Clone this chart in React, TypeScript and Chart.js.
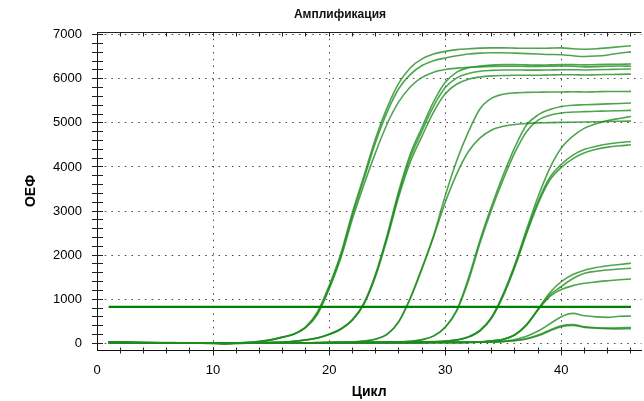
import React, { useEffect, useRef } from "react";
import { Chart, registerables } from "chart.js";

Chart.register(...registerables);

const chartTitle = "Амплификация";
const xTitle = "Цикл";
const yTitle = "ОЕФ";

const cycles = [1, 2, 3, 4, 5, 6, 7, 8, 9, 10, 11, 12, 13, 14, 15, 16, 17, 18, 19, 20, 21, 22, 23, 24, 25, 26, 27, 28, 29, 30, 31, 32, 33, 34, 35, 36, 37, 38, 39, 40, 41, 42, 43, 44, 45, 46];
const thresholdCycles = [1, 46];
const thresholdValue = 830;
const xTickLabels = [0, 10, 20, 30, 40];
const yTickLabels = [0, 1000, 2000, 3000, 4000, 5000, 6000, 7000];

const g1a = [30, 28, 25, 22, 20, 18, 15, 12, 8, 5, 5, 10, 22, 45, 85, 150, 220, 380, 720, 1310, 2030, 2970, 3800, 4650, 5350, 5900, 6250, 6450, 6560, 6620, 6660, 6680, 6695, 6700, 6700, 6695, 6690, 6690, 6695, 6700, 6680, 6670, 6680, 6700, 6725, 6750];
const g1b = [20, 22, 20, 18, 15, 12, 10, 8, 5, 2, 0, 6, 18, 40, 78, 140, 215, 370, 690, 1270, 1980, 2900, 3730, 4560, 5250, 5780, 6100, 6300, 6410, 6470, 6520, 6560, 6580, 6590, 6590, 6580, 6570, 6560, 6550, 6545, 6520, 6505, 6515, 6540, 6580, 6610];
const g1c = [25, 25, 22, 20, 18, 15, 12, 10, 6, 3, 2, 8, 20, 42, 80, 140, 210, 360, 660, 1230, 1930, 2820, 3600, 4330, 4980, 5480, 5820, 6030, 6150, 6210, 6240, 6260, 6270, 6280, 6285, 6285, 6280, 6280, 6285, 6290, 6285, 6270, 6275, 6285, 6290, 6285];
const g2a = [22, 20, 18, 16, 14, 12, 10, 8, 5, 3, 2, 4, 8, 14, 22, 32, 50, 80, 125, 210, 330, 540, 920, 1580, 2460, 3460, 4300, 4900, 5480, 5920, 6150, 6250, 6290, 6310, 6320, 6320, 6315, 6310, 6315, 6320, 6320, 6315, 6320, 6325, 6330, 6335];
const g2b = [18, 18, 16, 14, 12, 10, 8, 6, 4, 2, 1, 3, 7, 12, 20, 30, 48, 76, 120, 200, 320, 525, 900, 1550, 2420, 3400, 4220, 4820, 5380, 5800, 6020, 6120, 6170, 6190, 6200, 6200, 6195, 6195, 6200, 6205, 6205, 6200, 6205, 6210, 6215, 6222];
const g2c = [20, 19, 17, 15, 13, 11, 9, 7, 5, 3, 2, 4, 8, 13, 21, 31, 49, 78, 122, 205, 325, 530, 890, 1520, 2380, 3330, 4120, 4700, 5250, 5660, 5880, 5990, 6040, 6065, 6075, 6080, 6080, 6080, 6085, 6090, 6090, 6085, 6090, 6095, 6100, 6108];
const g3a = [20, 18, 16, 14, 12, 10, 8, 6, 4, 2, 1, 2, 4, 6, 8, 10, 12, 15, 18, 22, 27, 33, 55, 100, 210, 500, 1040, 1720, 2450, 3350, 4150, 4800, 5320, 5560, 5650, 5680, 5690, 5695, 5700, 5700, 5705, 5700, 5705, 5710, 5710, 5713];
const g3b = [18, 17, 15, 13, 11, 9, 7, 5, 3, 1, 0, 1, 3, 5, 7, 9, 11, 14, 17, 21, 26, 32, 52, 96, 205, 490, 1020, 1690, 2420, 3200, 3850, 4350, 4660, 4840, 4925, 4962, 4985, 5000, 5005, 5010, 5015, 5020, 5025, 5030, 5035, 5040];
const g4a = [20, 18, 16, 14, 12, 10, 8, 6, 4, 2, 1, 2, 3, 5, 7, 9, 11, 13, 15, 17, 19, 21, 23, 25, 28, 34, 48, 85, 170, 370, 760, 1480, 2350, 3120, 3820, 4450, 4950, 5180, 5300, 5370, 5400, 5410, 5420, 5430, 5440, 5450];
const g4b = [18, 16, 14, 12, 10, 8, 6, 4, 2, 0, 0, 1, 2, 4, 6, 8, 10, 12, 14, 16, 18, 20, 22, 24, 27, 32, 46, 82, 165, 360, 740, 1420, 2280, 3040, 3720, 4330, 4800, 5060, 5170, 5225, 5245, 5255, 5262, 5270, 5276, 5282];
const g5a = [22, 20, 18, 16, 14, 12, 10, 8, 6, 4, 3, 4, 5, 6, 8, 10, 12, 14, 16, 18, 20, 22, 24, 26, 28, 30, 32, 35, 40, 52, 80, 150, 300, 600, 1130, 1800, 2580, 3330, 3970, 4430, 4700, 4880, 4980, 5050, 5100, 5145];
const g5b = [20, 18, 16, 14, 12, 10, 8, 6, 4, 3, 2, 3, 4, 5, 7, 9, 11, 13, 15, 17, 19, 21, 23, 25, 27, 29, 31, 34, 38, 50, 78, 145, 290, 585, 1100, 1760, 2520, 3220, 3760, 4060, 4270, 4400, 4470, 4520, 4555, 4578];
const g5c = [19, 17, 15, 13, 11, 9, 7, 5, 3, 2, 1, 2, 3, 4, 6, 8, 10, 12, 14, 16, 18, 20, 22, 24, 26, 28, 30, 33, 37, 48, 76, 142, 285, 575, 1080, 1730, 2480, 3170, 3700, 3990, 4190, 4320, 4400, 4450, 4480, 4503];
const g6a = [20, 18, 16, 14, 12, 10, 8, 6, 4, 3, 2, 3, 4, 5, 6, 7, 8, 9, 10, 11, 12, 13, 14, 15, 16, 17, 18, 19, 20, 21, 23, 26, 35, 60, 95, 200, 430, 780, 1150, 1400, 1560, 1660, 1720, 1760, 1790, 1817];
const g6b = [18, 16, 14, 12, 10, 8, 6, 4, 3, 2, 1, 2, 3, 4, 5, 6, 7, 8, 9, 10, 11, 12, 13, 14, 15, 16, 17, 18, 19, 20, 22, 25, 33, 57, 92, 195, 420, 770, 1100, 1290, 1470, 1590, 1635, 1665, 1688, 1703];
const g6c = [19, 17, 15, 13, 11, 9, 7, 5, 3, 2, 1, 2, 3, 4, 5, 6, 7, 8, 9, 10, 11, 12, 13, 14, 15, 16, 17, 18, 19, 20, 21, 24, 32, 55, 90, 190, 410, 760, 1060, 1220, 1310, 1362, 1395, 1420, 1442, 1460];
const low1 = [20, 18, 16, 14, 12, 10, 8, 6, 4, 3, 2, 3, 4, 5, 6, 7, 8, 9, 10, 11, 12, 13, 14, 15, 16, 17, 18, 19, 20, 21, 22, 24, 28, 35, 50, 85, 160, 280, 440, 605, 680, 625, 600, 590, 615, 620];
const low2 = [18, 16, 14, 12, 10, 8, 6, 4, 3, 2, 1, 2, 3, 4, 5, 6, 7, 8, 9, 10, 11, 12, 13, 14, 15, 16, 17, 18, 19, 20, 22, 24, 26, 32, 42, 65, 110, 190, 300, 400, 425, 375, 355, 345, 355, 360];
const low3 = [19, 17, 15, 13, 11, 9, 7, 5, 3, 2, 1, 2, 3, 4, 5, 6, 7, 8, 9, 10, 11, 12, 13, 14, 15, 16, 17, 18, 19, 20, 21, 23, 25, 30, 40, 58, 98, 172, 280, 380, 405, 362, 345, 335, 330, 335];

const curves = [g1a, g1b, g1c, g2a, g2b, g2c, g3a, g3b, g4a, g4b, g5a, g5b, g5c, g6a, g6b, g6c, low1, low2, low3];

const FONT = "'Liberation Sans', Arial, sans-serif";

const titlePlugin = {
  id: "customTitle",
  afterDraw(chart: any) {
    const ctx = chart.ctx;
    ctx.save();
    ctx.font = `bold 12px ${FONT}`;
    ctx.fillStyle = "#111";
    ctx.textAlign = "center";
    ctx.textBaseline = "middle";
    ctx.fillText(chartTitle, 340, 15);
    ctx.restore();
  },
};

const al = (p: number) => Math.round(p - 0.5) + 0.5;

const decorPlugin = {
  id: "axisDecor",
  afterDraw(chart: any) {
    const { ctx, chartArea } = chart;
    const xs = chart.scales.x;
    const ys = chart.scales.y;
    ctx.save();
    ctx.strokeStyle = "#222";
    ctx.lineWidth = 1;
    const line = (x1: number, y1: number, x2: number, y2: number) => {
      ctx.beginPath();
      ctx.moveTo(x1, y1);
      ctx.lineTo(x2, y2);
      ctx.stroke();
    };
    const top = al(chartArea.top);
    const left = al(chartArea.left);
    const bottom = al(chartArea.bottom);
    line(chartArea.left, top, chartArea.right, top);
    ys.ticks.forEach((t: any) => {
      const py = al(ys.getPixelForValue(t.value));
      line(left - 5.5, py, left + 5.5, py);
    });
    xs.ticks.forEach((t: any) => {
      if (t.value === 0) return;
      const px = al(xs.getPixelForValue(t.value));
      const major = xTickLabels.includes(t.value);
      line(px, bottom - 3, px, bottom + (major ? 5 : 3));
      line(px, top, px, top + 4);
    });
    ctx.restore();
  },
};

export default function App() {
  const ref = useRef<HTMLCanvasElement>(null);
  useEffect(() => {
    document.body.style.margin = "0";
    document.body.style.overflow = "hidden";
    Chart.defaults.font.family = FONT;
    const datasets: any[] = [
      {
        data: thresholdCycles.map((c) => ({ x: c, y: thresholdValue })),
        borderColor: "#008000",
        borderWidth: 2.2,
        pointRadius: 0,
        tension: 0,
      },
      ...curves.map((arr) => ({
        data: cycles.map((c, i) => ({ x: c, y: arr[i] })),
        borderColor: "rgba(30,140,30,0.78)",
        borderWidth: 1.6,
        pointRadius: 0,
        cubicInterpolationMode: "monotone",
      })),
    ];
    const chart = new Chart(ref.current!, {
      type: "line",
      data: { datasets },
      plugins: [titlePlugin, decorPlugin],
      options: {
        animation: false,
        responsive: false,
        layout: { padding: { top: 32, left: 0, right: 0, bottom: 0 } },
        plugins: { legend: { display: false }, tooltip: { enabled: false }, title: { display: false } },
        scales: {
          x: {
            type: "linear",
            min: 0,
            max: 46.9,
            afterBuildTicks: (scale: any) => {
              const t: any[] = [];
              for (let v = 0; v <= 46; v += 2) t.push({ value: v });
              scale.ticks = t;
            },
            afterFit: (scale: any) => {
              scale.height = 51;
            },
            ticks: {
              autoSkip: false,
              maxRotation: 0,
              padding: 13,
              color: "#000",
              font: { size: 13, family: FONT },
              callback: (v: any) => (xTickLabels.includes(Number(v)) ? String(v) : ""),
            },
            grid: {
              drawTicks: false,
              lineWidth: 1,
              color: (c: any) =>
                c.tick && c.tick.value !== 0 && xTickLabels.includes(c.tick.value) ? "#444" : "rgba(0,0,0,0)",
            },
            border: { display: true, color: "#111", width: 1, dash: [1.5, 5.2] },
            title: {
              display: true,
              text: xTitle,
              color: "#000",
              font: { size: 14, weight: "bold", family: FONT },
              padding: { top: 0, bottom: 0 },
            },
          },
          y: {
            type: "linear",
            min: -150,
            max: 7060,
            afterBuildTicks: (scale: any) => {
              const t: any[] = [];
              for (let v = 0; v <= 7000; v += 200) t.push({ value: v });
              scale.ticks = t;
            },
            afterFit: (scale: any) => {
              scale.width = 97;
            },
            ticks: {
              autoSkip: false,
              padding: 15,
              color: "#000",
              font: { size: 13, family: FONT },
              callback: (v: any) => (yTickLabels.includes(Number(v)) ? String(v) : ""),
            },
            grid: {
              drawTicks: false,
              lineWidth: 1,
              color: (c: any) =>
                c.tick && yTickLabels.includes(c.tick.value) ? "#444" : "rgba(0,0,0,0)",
            },
            border: { display: true, color: "#111", width: 1, dash: [1.5, 5.2] },
            title: {
              display: true,
              text: yTitle,
              color: "#000",
              font: { size: 14, weight: "bold", family: FONT },
              padding: { top: 23, bottom: 0 },
            },
          },
        },
      } as any,
    });
    return () => chart.destroy();
  }, []);
  return (
    <div style={{ width: 644, height: 401 }}>
      <canvas ref={ref} width={644} height={401} />
    </div>
  );
}
